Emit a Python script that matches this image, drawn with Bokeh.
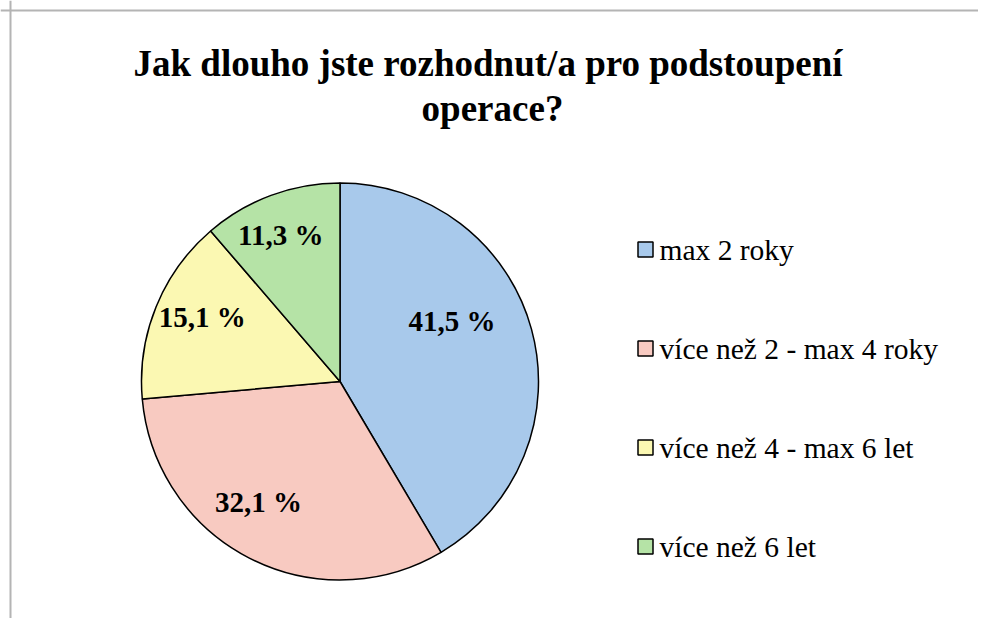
import math
from bokeh.plotting import figure
from bokeh.models import Range1d, Span
from bokeh.core.properties import value
from bokeh.embed import file_html
from bokeh.resources import INLINE

# ---- data ----
title_lines = ["Jak dlouho jste rozhodnut/a pro podstoupení", "operace?"]
categories = ["max 2 roky", "více než 2 - max 4 roky", "více než 4 - max 6 let", "více než 6 let"]
shares = [41.5, 32.1, 15.1, 11.3]
colors = ["#a8c9eb", "#f8cac1", "#fbf8b2", "#b5e3a6"]

# ---- layout (pixels; data y = H - screen y) ----
W, H = 978, 618
CX, CY, R = 339.5, H - 381.0, 198.5
LABEL_FRAC = 0.70
LABEL_NUDGE = [(-22, 24), (-18, 3), (-9, 12), (-11, 16)]
LEG_X, LEG_TOP, LEG_PITCH = 645.0, H - 249.0, 99.0
TITLE_POS = [(487.5, H - 63.0), (492.0, H - 108.0)]
FONT = "Liberation Serif"

p = figure(width=W, height=H, output_backend="svg", toolbar_location=None,
           x_range=Range1d(0, W), y_range=Range1d(0, H), min_border=0,
           outline_line_color=None)
p.xaxis.visible = False
p.yaxis.visible = False
p.grid.visible = False
p.background_fill_color = "white"
p.border_fill_color = "white"

# border (top and left visible)
p.add_layout(Span(location=H - 10, dimension="width", line_color="#b4b4b4", line_width=2))
p.add_layout(Span(location=10, dimension="height", line_color="#b4b4b4", line_width=2))

# title
for (tx, ty), line in zip(TITLE_POS, title_lines):
    p.text(x=[tx], y=[ty], text=[line], text_font=value(FONT),
           text_font_style="bold", text_font_size="37px", text_align="center",
           text_baseline="alphabetic", text_color="black")

# pie
total = sum(shares)
starts, ends, lx, ly, labels = [], [], [], [], []
cum = 0.0
for i, s in enumerate(shares):
    a0 = math.pi / 2 - 2 * math.pi * cum / total
    cum += s
    a1 = math.pi / 2 - 2 * math.pi * cum / total
    starts.append(a0)
    ends.append(a1)
    mid = (a0 + a1) / 2
    dx, dy = LABEL_NUDGE[i]
    lx.append(CX + LABEL_FRAC * R * math.cos(mid) + dx)
    ly.append(CY + LABEL_FRAC * R * math.sin(mid) + dy)
    labels.append(f"{s:.1f}".replace(".", ",") + " %")

p.wedge(x=[CX] * len(shares), y=[CY] * len(shares), radius=R,
        start_angle=starts, end_angle=ends, direction="clock",
        fill_color=colors, line_color="black", line_width=1.5)

p.text(x=lx, y=ly, text=labels, text_font=value(FONT), text_font_style="bold",
       text_font_size="29px", text_align="center", text_baseline="middle",
       text_color="black")

# legend (manual)
leg_y = [LEG_TOP - i * LEG_PITCH for i in range(len(categories))]
p.scatter(x=[LEG_X] * len(categories), y=leg_y, marker="square", size=15,
          fill_color=colors, line_color="black", line_width=1.5)
p.text(x=[LEG_X + 14] * len(categories), y=leg_y, text=categories,
       text_font=value(FONT), text_font_size="29.5px", text_align="left",
       text_baseline="middle", text_color="black")

open("out.html", "w").write(file_html(p, INLINE))
